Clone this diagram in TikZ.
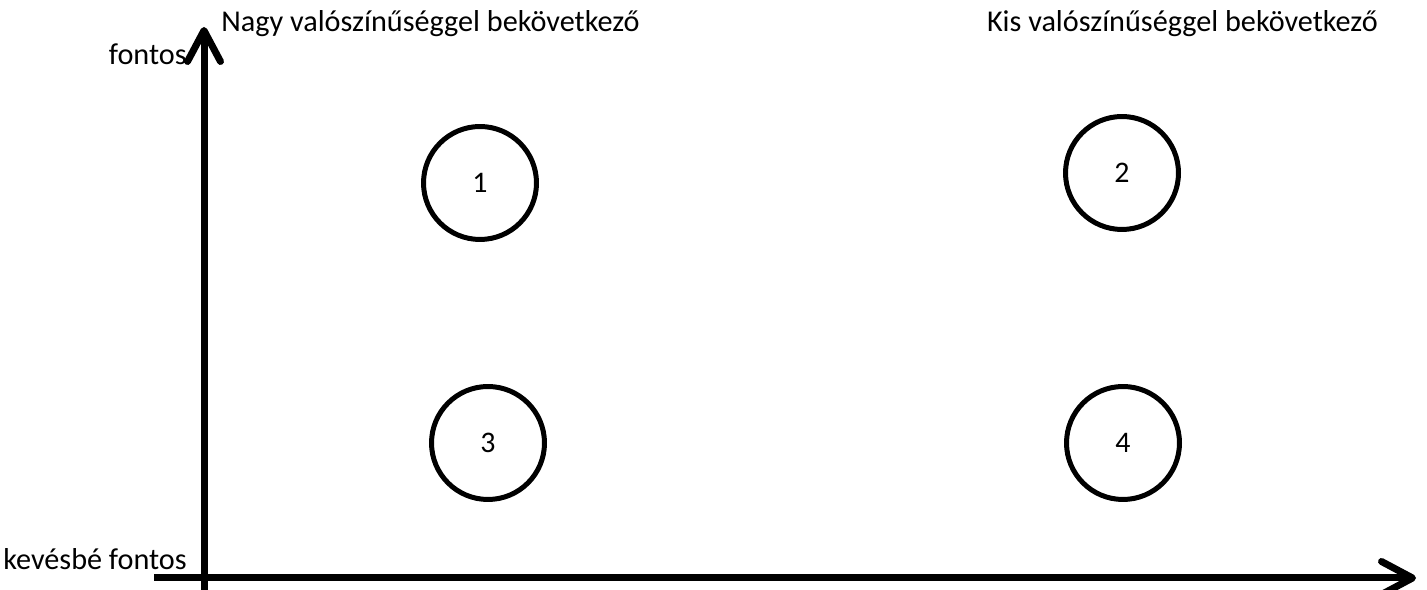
\documentclass[tikz,border=0pt]{standalone}
\usepackage{fontspec}
\setmainfont{Carlito}
\usetikzlibrary{arrows.meta}
\tikzset{
  axis/.style  = {line width=0.14cm, line cap=butt, line join=round,
                  -{Straight Barb[length=0.62cm, width=0.66cm, round]}},
  event/.style = {circle, draw, line width=0.1cm, minimum size=2.26cm,
                  inner sep=0pt, font=\fontsize{17}{20}\selectfont},
  lbl/.style   = {inner sep=0pt, font=\fontsize{17.2}{20}\selectfont},
}
\begin{document}
\begin{tikzpicture}[x=0.02cm, y=-0.02cm]
  \useasboundingbox (0,0) rectangle (1427,590);

  % axes
  \coordinate (ybot) at (204,592);
  \coordinate (ytop) at (204,27);
  \coordinate (xleft) at (154,578);
  \coordinate (xright) at (1416,578);
  \draw[axis] (ybot) -- (ytop);
  \draw[axis] (xleft) -- (xright);

  % axis labels
  \node[lbl, anchor=base west] (likely) at (221,32) {Nagy valószínűséggel bekövetkező};
  \node[lbl, anchor=base east] (unlikely) at (1378,32) {Kis valószínűséggel bekövetkező};
  \node[lbl, anchor=base east] (important) at (187,65) {fontos};
  \node[lbl, anchor=base east] (minor) at (187,570) {kevésbé fontos};

  % events
  \node[event] (e1) at (480,183) {1};
  \node[event] (e2) at (1122,173) {2};
  \node[event] (e3) at (488,443) {3};
  \node[event] (e4) at (1123,443) {4};

\end{tikzpicture}
\end{document}
